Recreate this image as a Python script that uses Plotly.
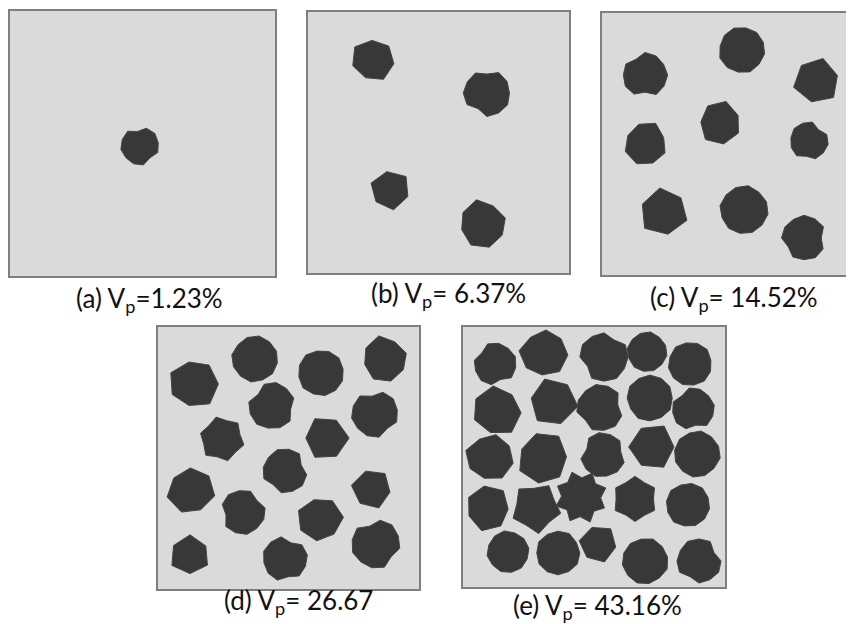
import math
import plotly.graph_objects as go

# ---------------- data ----------------
# particle shape templates: radius multipliers at equally spaced angles
shape_templates = [
    [1.06, 0.98, 1.10, 1.00, 1.06, 0.96],                                   # 0 hexagon-like
    [1.06, 1.10, 0.96, 1.05, 1.12, 0.98, 1.05],                             # 1 heptagon-like
    [1.04, 1.01, 1.06, 1.02, 1.04, 1.07, 1.01, 1.04, 1.06, 1.02, 1.04, 1.03],# 2 rounded
    [1.05, 1.07, 0.82, 1.05, 1.08, 1.03, 1.05, 0.86, 1.07, 1.05, 1.02, 1.08],# 3 notched
    [1.10, 0.82, 1.08, 0.80, 1.11, 0.82, 1.09, 0.79, 1.10, 0.81, 1.08, 0.82,
     1.10, 0.80, 1.09, 0.82],                                               # 4 star
    [1.10, 1.00, 1.05, 1.14, 0.94, 1.05, 1.01, 1.09],                        # 5 angular
    [1.12, 0.86, 1.10, 0.84, 1.12, 0.86, 1.09, 0.85, 1.11, 0.86],            # 6 five-lobed
    [1.08, 0.90, 1.07, 0.88, 1.09, 0.90, 1.06, 0.89, 1.08, 0.90, 1.07, 0.88],# 7 shallow lobes
]

# panel (a)
a_x = [130]
a_y = [135]
a_r = [18]
a_shape = [3]
a_rot = [200]

# panel (b)
b_x = [65, 179, 82, 175]
b_y = [48, 81, 178, 212]
b_r = [20, 22, 19, 22]
b_shape = [1, 3, 0, 5]
b_rot = [10, 60, 200, 120]

# panel (c)
c_x = [43, 140, 215, 118, 44, 207, 62, 142, 202]
c_y = [62, 37, 68, 110, 131, 128, 199, 197, 225]
c_r = [21, 22, 22, 20, 20, 18, 23, 23, 21]
c_shape = [3, 2, 0, 1, 5, 3, 0, 2, 3]
c_rot = [30, 10, 45, 80, 160, 250, 20, 130, 300]

# panel (d)
d_x = [36, 97, 163, 227, 114, 217, 64, 168, 127, 33, 214, 85, 162, 218, 32, 127]
d_y = [57, 32, 46, 32, 79, 87, 112, 111, 144, 164, 162, 185, 192, 217, 228, 232]
d_r = [23, 22, 22, 21, 22, 22, 21, 21, 21, 22, 19, 21, 21, 23, 19, 21]
d_shape = [1, 2, 2, 5, 3, 3, 7, 0, 3, 1, 0, 3, 1, 3, 0, 3]
d_rot = [0, 40, 80, 120, 160, 200, 15, 240, 280, 320, 70, 110, 150, 190, 30, 230]

# panel (e)
e_x = [32, 81, 141, 184, 227, 34, 90, 137, 187, 230, 27, 80, 140, 189, 234,
       25, 73, 118, 172, 225, 45, 95, 135, 182, 236]
e_y = [37, 26, 30, 25, 37, 84, 75, 81, 71, 82, 130, 131, 128, 120, 127,
       181, 181, 170, 172, 178, 225, 226, 217, 234, 234]
e_r = [20, 22, 23, 19, 21, 23, 23, 22, 22, 20, 22, 24, 21, 22, 22,
       21, 23, 24, 21, 21, 20, 21, 18, 22, 21]
e_shape = [3, 5, 3, 2, 2, 1, 0, 3, 2, 3, 5, 1, 3, 0, 2,
           1, 6, 4, 7, 2, 2, 2, 0, 2, 3]
e_rot = [10, 50, 90, 130, 170, 210, 250, 290, 330, 20, 60, 100, 140, 180, 220,
         260, 300, 340, 30, 70, 110, 150, 190, 230, 270]

captions = [
    "(a) V<sub>p</sub>=1.23%",
    "(b) V<sub>p</sub>= 6.37%",
    "(c) V<sub>p</sub>= 14.52%",
    "(d) V<sub>p</sub>= 26.67",
    "(e) V<sub>p</sub>= 43.16%",
]

# ---------------- layout ----------------
PAGE_OFF = 8          # default body margin of the html page
W, H = 854 - PAGE_OFF, 624 - PAGE_OFF
# left, top, width, height (px, page coords), visible width, caption centre (x, y)
panels = [
    dict(data=(a_x, a_y, a_r, a_shape, a_rot), box=(10, 11, 265, 265), vis=265, cap=(149, 299)),
    dict(data=(b_x, b_y, b_r, b_shape, b_rot), box=(308, 12, 261, 261), vis=261, cap=(448, 295)),
    dict(data=(c_x, c_y, c_r, c_shape, c_rot), box=(602, 13, 262, 262), vis=252, cap=(734, 298)),
    dict(data=(d_x, d_y, d_r, d_shape, d_rot), box=(158, 327, 261, 262), vis=261, cap=(298, 601)),
    dict(data=(e_x, e_y, e_r, e_shape, e_rot), box=(463, 327, 262, 260), vis=262, cap=(597, 606)),
]

BG = "#dadada"
PART = "#383838"
EDGE = "#7f7f7f"

fig = go.Figure()
layout_axes = {}
annotations = []

for i, p in enumerate(panels):
    xs, ys, rs, shp, rot = p["data"]
    left, top, w, h = p["box"]
    left -= PAGE_OFF
    top -= PAGE_OFF
    vis = p["vis"]
    px, py = [], []
    for cx, cy, r, s, ro in zip(xs, ys, rs, shp, rot):
        tpl = shape_templates[s]
        n = len(tpl)
        for k in range(n + 1):
            m = tpl[k % n]
            ang = math.radians(ro) + 2 * math.pi * (k % n) / n
            px.append(cx + r * m * math.cos(ang))
            py.append(cy + r * m * math.sin(ang))
        px.append(None)
        py.append(None)
    sfx = "" if i == 0 else str(i + 1)
    fig.add_trace(go.Scatter(
        x=px, y=py, mode="lines", fill="toself", fillcolor=PART,
        line=dict(color="#444444", width=1), hoverinfo="skip", showlegend=False,
        xaxis="x" + sfx, yaxis="y" + sfx,
    ))
    right = left + vis
    clipped = vis < w
    layout_axes["xaxis" + sfx] = dict(
        domain=[left / W, min(right / W, 1.0)], range=[0, vis],
        showgrid=False, zeroline=False, showticklabels=False, ticks="",
        showline=True, linecolor=EDGE, linewidth=2, mirror=True,
        anchor="y" + sfx, fixedrange=True,
    )
    layout_axes["yaxis" + sfx] = dict(
        domain=[1 - (top + h) / H, 1 - top / H], range=[h, 0],
        showgrid=False, zeroline=False, showticklabels=False, ticks="",
        showline=True, linecolor=EDGE, linewidth=2, mirror=(not clipped),
        anchor="x" + sfx, fixedrange=True,
    )
    fig.add_shape(type="rect", xref="x" + sfx, yref="y" + sfx,
                  x0=0, x1=vis, y0=0, y1=h, fillcolor=BG, line_width=0, layer="below")
    annotations.append(dict(
        text=captions[i], xref="paper", yref="paper",
        x=(p["cap"][0] - PAGE_OFF) / W, y=1 - (p["cap"][1] - PAGE_OFF) / H,
        xanchor="center", yanchor="middle", showarrow=False,
        font=dict(family="Lato", size=26, color="#111111"),
    ))

fig.update_layout(
    width=W, height=H, margin=dict(l=0, r=0, t=0, b=0),
    paper_bgcolor="white", plot_bgcolor=BG,
    annotations=annotations, **layout_axes,
)

fig.write_html("out.html")
